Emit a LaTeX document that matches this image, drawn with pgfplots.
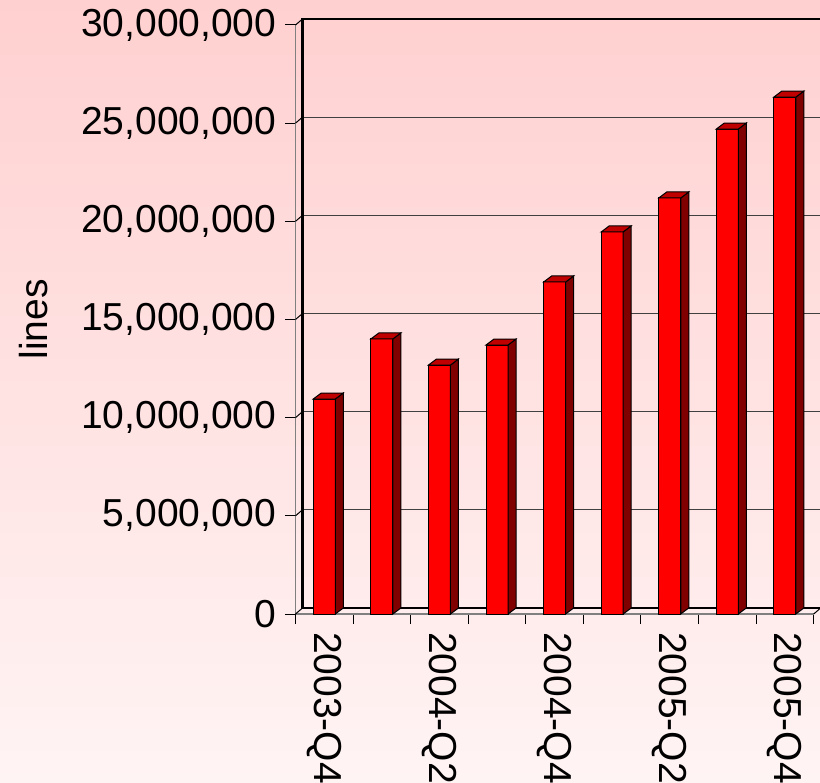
\documentclass[border=0pt]{standalone}
\usepackage{pgfplots}
\pgfplotsset{compat=1.18}
\usepackage{pgfplotstable}
\usepackage{fontspec}
\setmainfont{Liberation Sans}
\definecolor{bgtop}{RGB}{255,208,208}
\definecolor{bgbot}{RGB}{255,244,244}
\definecolor{frontred}{RGB}{255,0,0}
\definecolor{sidered}{RGB}{128,0,0}
\definecolor{topred}{RGB}{192,0,0}

\pgfplotstableread{
x v
0 10.95
1 14.01
2 12.68
3 13.70
4 16.91
5 19.46
6 21.19
7 24.70
8 26.33
}\data

\newcommand{\bigfont}{\fontsize{39bp}{46bp}\selectfont}

\begin{document}
\begin{tikzpicture}
\useasboundingbox (0bp,0bp) rectangle (820bp,783bp);
\shade[top color=bgtop, bottom color=bgbot] (0bp,0bp) rectangle (820bp,783bp);
\clip (0bp,0bp) rectangle (820bp,783bp);

% back wall
\begin{axis}[
  at={(302.5bp,175bp)}, anchor=south west,
  scale only axis, width=518.2bp, height=589bp,
  xmin=-0.5, xmax=8.5, ymin=0, ymax=30,
  xtick=\empty, ytick={5,10,...,25}, yticklabels={},
  major tick length=0pt,
  ymajorgrids, major grid style={black!75, line width=1.2bp},
  axis line style={draw=none},
  clip=false,
]
\draw[gray, line width=1bp] (rel axis cs:1,0) -- (rel axis cs:1,1);
\draw[black, line width=2.4bp] (rel axis cs:1.01,1) -- (rel axis cs:0,1) -- (rel axis cs:0,0) -- (rel axis cs:1.01,0);
\end{axis}

% front
\begin{axis}[
  at={(295.5bp,169bp)}, anchor=south west,
  scale only axis, width=518.2bp, height=589bp,
  xmin=-0.5, xmax=8.5, ymin=0, ymax=30,
  axis lines*=left,
  axis line style={-, gray, line width=1.5bp},
  tick align=outside,
  major tick length=10bp,
  tick style={black, line width=1bp},
  xtick={-0.5,0.5,...,8.5}, xticklabels={},
  extra x ticks={0,2,4,6,8},
  extra x tick labels={2003-Q4,2004-Q2,2004-Q4,2005-Q2,2005-Q4},
  extra x tick style={major tick length=0pt,
     xticklabel style={rotate=-90, anchor=west, inner sep=0pt, font=\bigfont}},
  xticklabel shift=18bp,
  ytick={0,5,...,30},
  yticklabels={0,{5,000,000},{10,000,000},{15,000,000},{20,000,000},{25,000,000},{30,000,000}},
  yticklabel style={font=\bigfont, anchor=east, inner sep=0pt},
  yticklabel shift=9bp,
  ylabel={lines},
  ylabel style={font=\bigfont, at={(axis description cs:-0.5055,0.5)}, anchor=center},
  clip=false,
  unbounded coords=jump,
]
% connectors from front ticks to back wall
\addplot[black, line width=1bp] coordinates {
 (-0.5,0) (-0.3785,0.306) (-0.5,nan)
 (-0.5,5) (-0.3785,5.306) (-0.5,nan)
 (-0.5,10) (-0.3785,10.306) (-0.5,nan)
 (-0.5,15) (-0.3785,15.306) (-0.5,nan)
 (-0.5,20) (-0.3785,20.306) (-0.5,nan)
 (-0.5,25) (-0.3785,25.306) (-0.5,nan)
 (-0.5,30) (-0.3785,30.306) (-0.5,nan)
 (8.5,0) (8.6215,0.306)
};
% front faces
\addplot[ybar, bar width=0.382, fill=frontred, draw=black, line width=1bp] table[x=x,y=v] {\data};
% side and top faces
\pgfplotsforeachungrouped \i in {0,...,8}{
  \pgfplotstablegetelem{\i}{v}\of\data
  \let\v\pgfplotsretval
  \pgfmathsetmacro\xa{\i+0.191}
  \pgfmathsetmacro\xb{\i+0.330}
  \pgfmathsetmacro\xc{\i-0.191}
  \pgfmathsetmacro\xd{\i-0.052}
  \pgfmathsetmacro\vb{\v+0.306}
  \edef\tmp{%
    \noexpand\addplot[fill=sidered, draw=black, line width=1bp] coordinates {(\xa,0) (\xb,0.306) (\xb,\vb) (\xa,\v)} -- cycle;
    \noexpand\addplot[fill=topred, draw=black, line width=1bp] coordinates {(\xc,\v) (\xa,\v) (\xb,\vb) (\xd,\vb)} -- cycle;
  }%
  \tmp
}
\end{axis}
\end{tikzpicture}
\end{document}
